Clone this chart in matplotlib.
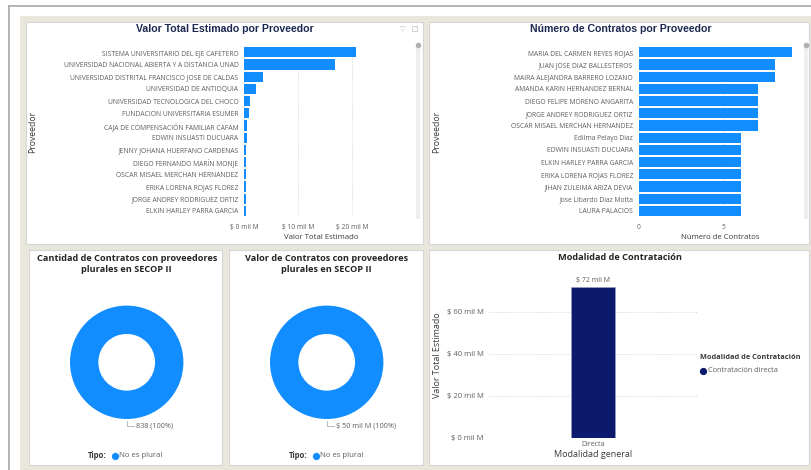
import matplotlib
matplotlib.use("Agg")
import matplotlib.pyplot as plt
from matplotlib.patches import Rectangle
from matplotlib.lines import Line2D

# ---- data ----
prov_valor = ["SISTEMA UNIVERSITARIO DEL EJE CAFETERO",
              "UNIVERSIDAD NACIONAL ABIERTA Y A DISTANCIA UNAD",
              "UNIVERSIDAD DISTRITAL FRANCISCO JOSE DE CALDAS",
              "UNIVERSIDAD DE ANTIOQUIA",
              "UNIVERSIDAD TECNOLOGICA DEL CHOCO",
              "FUNDACION UNIVERSITARIA ESUMER",
              "CAJA DE COMPENSACIÓN FAMILIAR CAFAM",
              "EDWIN INSUASTI DUCUARA",
              "JENNY JOHANA HUERFANO CARDENAS",
              "DIEGO FERNANDO MARÍN MONJE",
              "OSCAR MISAEL MERCHAN HERNANDEZ",
              "ERIKA LORENA ROJAS FLOREZ",
              "JORGE ANDREY RODRIGUEZ ORTIZ",
              "ELKIN HARLEY PARRA GARCIA"]
valor_mil_m = [20.7, 16.9, 3.6, 2.3, 1.2, 0.85, 0.55, 0.5, 0.3, 0.3, 0.3, 0.3, 0.3, 0.3]

prov_num = ["MARIA DEL CARMEN REYES ROJAS",
            "JUAN JOSE DIAZ BALLESTEROS",
            "MAIRA ALEJANDRA BARRERO LOZANO",
            "AMANDA KARIN HERNANDEZ BERNAL",
            "DIEGO FELIPE MORENO ANGARITA",
            "JORGE ANDREY RODRIGUEZ ORTIZ",
            "OSCAR MISAEL MERCHAN HERNANDEZ",
            "Edilma Pelayo Díaz",
            "EDWIN INSUASTI DUCUARA",
            "ELKIN HARLEY PARRA GARCIA",
            "ERIKA LORENA ROJAS FLOREZ",
            "JIHAN ZULEIMA ARIZA DEVIA",
            "Jose Libardo Diaz Motta",
            "LAURA PALACIOS"]
num_contratos = [9, 8, 8, 7, 7, 7, 7, 6, 6, 6, 6, 6, 6, 6]

tipo = ["No es plural"]
cantidad_tipo = [838]
valor_tipo = [50]

modalidad = ["Directa"]
valor_modalidad = [72]
modalidad_leyenda = "Contratación directa"

W, H = 811, 470
BLUE = "#118DFF"
NAVY = "#0b1a6c"
GRAY = "#605e5c"
GRID = "#c8c6c4"

plt.rcParams["font.family"] = ["Open Sans", "DejaVu Sans"]

fig = plt.figure(figsize=(W / 100, H / 100), dpi=100)
fig.patch.set_facecolor("white")


def fx(x):
    return x / W


def fy(y):
    return 1 - y / H


def box(x0, y0, x1, y1, fc, ec="none", lw=0.8, z=-5):
    fig.patches.append(Rectangle((fx(x0), fy(y1)), fx(x1) - fx(x0), fy(y0) - fy(y1),
                                 transform=fig.transFigure, fc=fc, ec=ec, lw=lw, zorder=z))


def add_ax(x0, y0, x1, y1):
    return fig.add_axes([fx(x0), fy(y1), fx(x1) - fx(x0), fy(y0) - fy(y1)])


# background
fig.add_artist(Line2D([fx(9), fx(811)], [fy(6), fy(6)], transform=fig.transFigure, color="#a8a8a8", lw=1.2, zorder=-6))
fig.add_artist(Line2D([fx(9), fx(9)], [fy(6), fy(470)], transform=fig.transFigure, color="#a8a8a8", lw=1.2, zorder=-6))
box(20, 16, 811, 470, "#e9e7dc", z=-6)
for p in [(26, 22, 423, 244), (429, 22, 809, 244), (29, 250, 222, 465), (229, 250, 423, 465), (429, 250, 809, 465)]:
    box(*p, fc="white", ec="#d6d6d6")

# scrollbars + header icons
for sx in (418, 806):
    box(sx - 2, 45, sx + 2, 219, "#eeeeee", z=-4)
    fig.add_artist(Line2D([fx(sx)], [fy(45)], transform=fig.transFigure, marker="o", ms=3, color="#b0b0b0", lw=0))
fig.text(fx(403), fy(29), "▽", fontsize=5, color="#c0c0c0", ha="center", va="center", family="DejaVu Sans")
box(412, 26, 417, 31, "none", ec="#c8c8c8", lw=0.6, z=-4)


def hbar(ax, labels, vals, xmax, ticks, fmt):
    y = range(len(labels))
    ax.barh(y, vals, height=0.82, color=BLUE, zorder=3)
    ax.set_ylim(len(labels) - 0.5, -0.5)
    ax.set_xlim(0, xmax)
    ax.set_yticks(list(y))
    ax.set_yticklabels(labels, fontsize=4.9, color=GRAY)
    ax.set_xticks(ticks)
    ax.set_xticklabels([fmt(t) for t in ticks], fontsize=4.8, color=GRAY)
    ax.tick_params(length=0, axis="y", pad=4)
    ax.tick_params(length=0, axis="x", pad=5)
    ax.grid(axis="x", ls=(0, (1, 2)), color=GRID, lw=0.6, zorder=0)
    for s in ax.spines.values():
        s.set_visible(False)
    ax.set_facecolor("none")


ax1 = add_ax(244, 46.2, 399, 217)
hbar(ax1, prov_valor, valor_mil_m, 28.7, [0, 10, 20], lambda t: f"$ {t} mil M")
ax1.set_xlabel("Valor Total Estimado", fontsize=5.6, color="#3b3a39", labelpad=2)
fig.text(fx(33), fy(132), "Proveedor", rotation=90, fontsize=6.2, color="#3b3a39", ha="center", va="center")
fig.text(fx(225), fy(29), "Valor Total Estimado por Proveedor", fontsize=7.6, weight="bold",
         color="#1c2850", ha="center", va="center", family=["Liberation Sans", "DejaVu Sans"])

ax2 = add_ax(638.7, 46.2, 801, 217)
hbar(ax2, prov_num, num_contratos, 9.55, [0, 5], lambda t: f"{t}")
ax2.set_xlabel("Número de Contratos", fontsize=5.6, color="#3b3a39", labelpad=2)
fig.text(fx(437), fy(132), "Proveedor", rotation=90, fontsize=6.2, color="#3b3a39", ha="center", va="center")
fig.text(fx(621), fy(29), "Número de Contratos por Proveedor", fontsize=7.6, weight="bold",
         color="#1c2850", ha="center", va="center", family=["Liberation Sans", "DejaVu Sans"])


def donut(cx, cy, r, vals, label, title, legend_x):
    ax = add_ax(cx - r, cy - r, cx + r, cy + r)
    ax.pie(vals, colors=[BLUE], startangle=90, counterclock=False,
           wedgeprops=dict(width=0.5, edgecolor="white", linewidth=0))
    ax.set_xlim(-1, 1)
    ax.set_ylim(-1, 1)
    ax.plot([0, 0, 0.13], [-1.03, -1.13, -1.13], color="#b0b0b0", lw=0.6, clip_on=False)
    ax.text(0.16, -1.13, label, fontsize=5.2, color=GRAY, va="center", ha="left", clip_on=False)
    fig.text(fx(cx), fy(264), title, fontsize=6.6, weight="bold", color="#252423",
             ha="center", va="center", linespacing=1.25)
    fig.text(fx(legend_x), fy(455.7), "Tipo:", fontsize=5.6, weight="bold", color="#3b3a39", va="center")
    fig.add_artist(Line2D([fx(legend_x + 27)], [fy(455.7)], transform=fig.transFigure, marker="o",
                          ms=4.2, color=BLUE, lw=0))
    fig.text(fx(legend_x + 30.5), fy(455.7), tipo[0], fontsize=5.6, color=GRAY, va="center")


tot1 = sum(cantidad_tipo)
donut(126.7, 362.3, 56.7, cantidad_tipo,
      f"{cantidad_tipo[0]} ({cantidad_tipo[0] / tot1:.0%})",
      "Cantidad de Contratos con proveedores\nplurales en SECOP II", 88)
tot2 = sum(valor_tipo)
donut(326.7, 362.3, 56.7, valor_tipo,
      f"$ {valor_tipo[0]} mil M ({valor_tipo[0] / tot2:.0%})",
      "Valor de Contratos con proveedores\nplurales en SECOP II", 289)

# modalidad
ax3 = add_ax(488, 269.7, 698, 437.7)
ax3.bar(modalidad, valor_modalidad, width=0.206, color=NAVY, edgecolor="#9aa3c8", lw=0.4, zorder=3)
ax3.set_xlim(-0.5, 0.5)
ax3.set_ylim(0, 80)
yt = [0, 20, 40, 60]
ax3.set_yticks(yt)
ax3.set_yticklabels([f"$ {t} mil M" for t in yt], fontsize=5.5, color=GRAY)
ax3.tick_params(length=0, axis="y", pad=3)
ax3.tick_params(length=0, axis="x", pad=2.5, labelsize=5, labelcolor=GRAY)
ax3.grid(axis="y", ls=(0, (1, 2)), color=GRID, lw=0.6, zorder=0)
for s in ax3.spines.values():
    s.set_visible(False)
ax3.set_facecolor("none")
for i, v in enumerate(valor_modalidad):
    ax3.text(i, v + 3, f"$ {v} mil M", fontsize=5, color=GRAY, ha="center", va="center")
ax3.set_xlabel("Modalidad general", fontsize=6.5, color="#3b3a39", labelpad=1.5)
fig.text(fx(437.7), fy(355), "Valor Total Estimado", rotation=90, fontsize=6.4, color="#3b3a39",
         ha="center", va="center")
fig.text(fx(620), fy(257.7), "Modalidad de Contratación", fontsize=6.6, weight="bold", color="#252423",
         ha="center", va="center")
fig.text(fx(700), fy(357.3), "Modalidad de Contratación", fontsize=5.3, weight="bold", color="#3b3a39",
         ha="left", va="center")
fig.add_artist(Line2D([fx(703)], [fy(370.7)], transform=fig.transFigure, marker="o", ms=4.2, color=NAVY, lw=0))
fig.text(fx(707.5), fy(370.7), modalidad_leyenda, fontsize=5.3, color=GRAY, ha="left", va="center")

fig.savefig("out.png", dpi=100)
